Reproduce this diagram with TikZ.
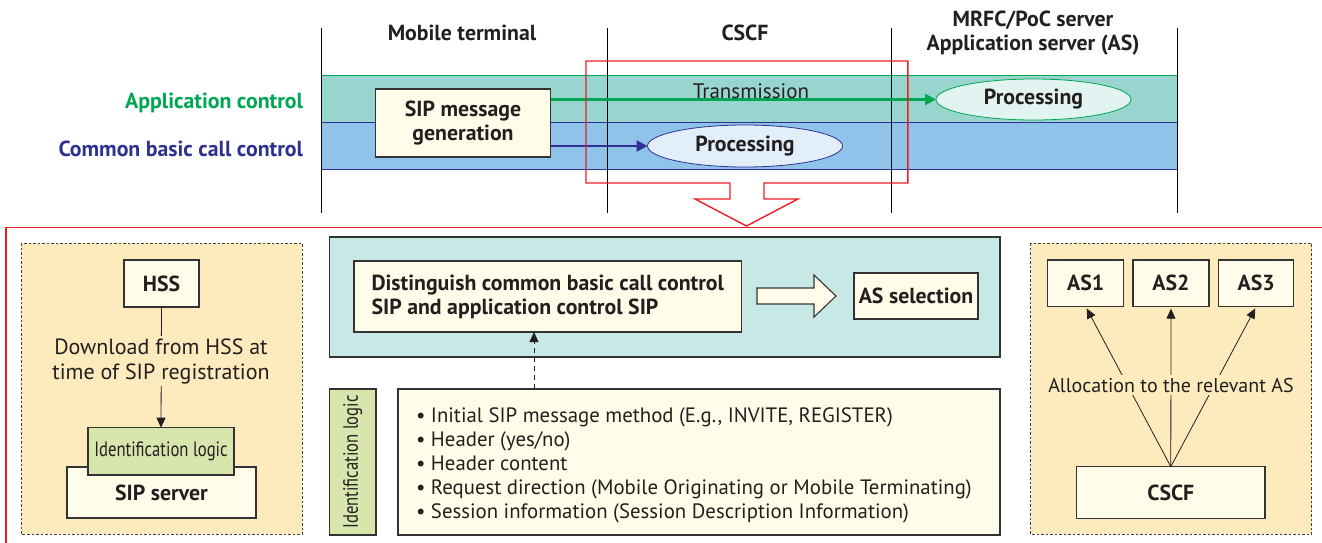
\documentclass[tikz,border=0pt]{standalone}
\usepackage{fontspec}
\setmainfont{PT Sans}
\usetikzlibrary{arrows.meta,calc,shapes.geometric}
\definecolor{txt}{HTML}{231F20}
\definecolor{bandgreen}{HTML}{98D5CF}
\definecolor{bandblue}{HTML}{8FC3E9}
\definecolor{lgreen}{HTML}{00A651}
\definecolor{dblue}{HTML}{2E3192}
\definecolor{cream}{HTML}{FFFDE9}
\definecolor{panel}{HTML}{FDEBBE}
\definecolor{idgreen}{HTML}{D8E6AE}
\definecolor{tealbox}{HTML}{C8E8E6}
\definecolor{ellg}{HTML}{E2F4F1}
\definecolor{ellb}{HTML}{E2EFFA}
\definecolor{redline}{HTML}{EE1C25}
\begin{document}
\begin{tikzpicture}[x=1pt,y=-1pt,
  every node/.style={text=txt, inner sep=0pt, outer sep=0pt},
  bld/.style={font=\fontsize{21.8}{24}\selectfont\bfseries},
  reg/.style={font=\fontsize{21}{24}\selectfont},
  big/.style={font=\fontsize{22}{25}\selectfont},
  box/.style={draw=black!80, line width=1.1pt, fill=cream, rectangle, align=center},
  idfont/.style={font=\fontsize{20.8}{22}\selectfont\addfontfeature{FakeStretch=0.8}},
  idbox/.style={draw=black!80, line width=1.1pt, fill=idgreen, rectangle, align=center, idfont},
  dpanel/.style={draw=black!75, line width=0.8pt, dash pattern=on 2.5pt off 2pt, fill=panel},
  arr/.style={-{Triangle[length=10pt,width=9pt]}, line width=0.8pt, draw=txt},
  colline/.style={draw=black, line width=0.7pt}
]
\useasboundingbox (0,0) rectangle (1322,543);

% ---------- top bands ----------
\fill[bandgreen] (321,75.7) rectangle (1177,122);
\fill[bandblue] (321,122) rectangle (1177,169);
\draw[lgreen, line width=1pt] (321,75.7) -- (1177,75.7);
\draw[dblue, line width=1pt] (321,122) -- (1177,122);
\draw[dblue, line width=1pt] (321,169) -- (1177,169);

\foreach \x in {321,607,891,1177} \draw[colline] (\x,28) -- (\x,213);

% column headers
\node[bld] (hmt) at (462,33) {Mobile terminal};
\node[bld] (hcscf) at (745,33) {CSCF};
\node[bld, align=center] (has) at (1033,33) {MRFC/PoC server\\Application server (AS)};

% row labels
\node[bld, anchor=east, text=lgreen] (lac) at (303,103) {Application control};
\node[bld, anchor=east, text=dblue] (lbc) at (303,149) {Common basic call control};

% nodes in bands
\node[box, bld, minimum width=175pt, minimum height=68pt] (sip) at (463,123) {SIP message\\generation};
\node[ellipse, draw=lgreen, line width=0.8pt, fill=ellg, minimum width=195pt, minimum height=41pt, bld] (gell) at (1033.5,99.5) {Processing};
\node[ellipse, draw=dblue, line width=0.8pt, fill=ellb, minimum width=195pt, minimum height=42pt, bld] (bell) at (745,146) {Processing};

\draw[lgreen, line width=2.6pt, -{Triangle[length=11pt,width=11pt]}] (sip.east |- gell.west) -- node[pos=0.52, above=1pt, reg] (trans) {Transmission} (gell.west);
\draw[dblue, line width=2.6pt, -{Triangle[length=11pt,width=11pt]}] (sip.east |- bell.west) -- (bell.west);

% red outline with arrow
\draw[redline, line width=1.4pt, line join=miter] (586,61) -- (907.8,61) -- (907.8,183) -- (764,183) -- (764,199) -- (798,199) -- (746.5,226) -- (695,199) -- (730,199) -- (730,183) -- (586,183) -- cycle;
\draw[redline, line width=1.4pt] (1322,227.5) -- (6,227.5) -- (6,543);

% ---------- bottom left panel ----------
\draw[dpanel] (21,243) rectangle (302,534);
\node[box, bld, minimum width=75pt, minimum height=47pt] (hss) at (161.5,283.5) {HSS};
\node[box, bld, minimum width=189pt, minimum height=51pt] (sipsrv) at (161.5,492.5) {SIP server};
\node[idbox, minimum width=146pt, minimum height=47.3pt] (idl) at (161,451.3) {Identification logic};
\draw[arr] (hss.south) -- (idl.north);
\node[big, fill=panel, align=center, inner sep=2pt] (dl) at (161,361) {Download from HSS at\\time of SIP registration};

% ---------- middle ----------
\draw[draw=black!80, line width=1.1pt, fill=tealbox] (329.5,237) rectangle (1000,357);
\node[box, bld, align=left, minimum width=387.5pt, minimum height=71pt] (dist) at (547.75,296.5) {Distinguish common basic call control\\SIP and application control SIP};
\draw[draw=black!80, line width=1.1pt, fill=cream, line join=miter] (757,288) -- (814,288) -- (814,275) -- (836,296) -- (814,317) -- (814,304) -- (757,304) -- cycle;
\node[box, bld, minimum width=124pt, minimum height=46pt] (assel) at (916,296) {AS selection};

\node[idbox, minimum width=46.5pt, minimum height=146pt] (idv) at (352.75,462) {};
\node[rotate=90, idfont] (idvt) at (idv.center) {Identification logic};
\node[box, minimum width=602pt, minimum height=146pt] (list) at (699,462) {};
\node[anchor=west, align=left, font=\fontsize{20.8}{24}\selectfont] (listtext) at (416,465) {%
• Initial SIP message method (E.g., INVITE, REGISTER)\\
• Header (yes/no)\\
• Header content\\
• Request direction (Mobile Originating or Mobile Terminating)\\
• Session information (Session Description Information)};
\coordinate (da) at (534,0);
\draw[arr, dashed, dash pattern=on 5pt off 4pt] (list.north -| da) -- (dist.south -| da);

% ---------- right panel ----------
\draw[dpanel] (1030.7,243) rectangle (1311.7,534);
\node[box, bld, minimum width=76pt, minimum height=46.7pt] (as1) at (1085.7,283.3) {AS1};
\node[box, bld, minimum width=76pt, minimum height=46.7pt] (as2) at (1171,283.3) {AS2};
\node[box, bld, minimum width=75pt, minimum height=46.7pt] (as3) at (1256.2,283.3) {AS3};
\node[box, bld, minimum width=188.3pt, minimum height=51.7pt] (cscf) at (1170.8,492.5) {CSCF};
\draw[arr, shorten >=2pt] (cscf.north) -- (as1.south);
\draw[arr, shorten >=2pt] (cscf.north) -- (as2.south);
\draw[arr, shorten >=2pt] (cscf.north) -- (as3.south);
\node[font=\fontsize{20}{24}\selectfont, fill=panel, inner sep=3pt] (alloc) at (1171,385) {Allocation to the relevant AS};
\end{tikzpicture}
\end{document}
